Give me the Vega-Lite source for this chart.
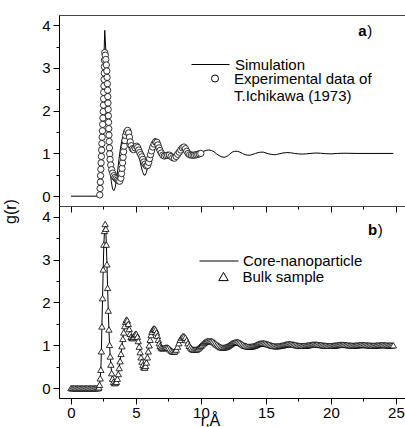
{
"$schema": "https://vega.github.io/schema/vega-lite/v6.json",
"padding": {"left": 1, "top": 14, "right": 0, "bottom": 0},
"background": "white",
"spacing": 0,
"bounds": "flush",
"resolve": {"scale": {"color": "independent", "shape": "independent", "x": "independent", "y": "independent"}, "legend": {"color": "independent", "shape": "independent"}},
"config": {
  "view": {"stroke": "#444", "strokeWidth": 1},
  "font": "Liberation Sans",
  "axis": {"grid": false, "domainColor": "black", "tickColor": "black", "labelColor": "black", "titleColor": "black", "labelFont": "Liberation Sans", "titleFont": "Liberation Sans", "labelFontSize": 15, "titleFontSize": 16, "titleFontWeight": "normal", "tickSize": 6, "domainWidth": 1, "tickWidth": 1},
  "legend": {"labelFont": "Liberation Sans", "labelFontSize": 15, "labelColor": "black"}
},
"datasets": {
"sim": [{"r":0,"g":0},{"r":1,"g":0},{"r":2.1,"g":0},{"r":2.2,"g":0.05},{"r":2.3,"g":0.5},{"r":2.4,"g":1.5},{"r":2.5,"g":2.9},{"r":2.6,"g":3.88},{"r":2.7,"g":3.3},{"r":2.8,"g":2.2},{"r":2.9,"g":1.3},{"r":3.0,"g":0.7},{"r":3.1,"g":0.35},{"r":3.2,"g":0.17},{"r":3.3,"g":0.13},{"r":3.4,"g":0.2},{"r":3.5,"g":0.38},{"r":3.6,"g":0.62},{"r":3.7,"g":0.88},{"r":3.8,"g":1.1},{"r":3.9,"g":1.28},{"r":4.0,"g":1.4},{"r":4.1,"g":1.47},{"r":4.2,"g":1.5},{"r":4.3,"g":1.48},{"r":4.4,"g":1.4},{"r":4.5,"g":1.28},{"r":4.6,"g":1.16},{"r":4.7,"g":1.1},{"r":4.8,"g":1.08},{"r":4.9,"g":1.1},{"r":5.0,"g":1.12},{"r":5.1,"g":1.1},{"r":5.2,"g":1.0},{"r":5.3,"g":0.85},{"r":5.4,"g":0.7},{"r":5.5,"g":0.58},{"r":5.6,"g":0.5},{"r":5.7,"g":0.49},{"r":5.8,"g":0.55},{"r":5.9,"g":0.68},{"r":6.0,"g":0.85},{"r":6.1,"g":1.02},{"r":6.2,"g":1.17},{"r":6.3,"g":1.28},{"r":6.4,"g":1.34},{"r":6.5,"g":1.35},{"r":6.6,"g":1.31},{"r":6.7,"g":1.23},{"r":6.8,"g":1.13},{"r":6.9,"g":1.03},{"r":7.0,"g":0.96},{"r":7.1,"g":0.92},{"r":7.2,"g":0.91},{"r":7.3,"g":0.92},{"r":7.4,"g":0.94},{"r":7.5,"g":0.95},{"r":7.6,"g":0.94},{"r":7.7,"g":0.91},{"r":7.8,"g":0.89},{"r":7.9,"g":0.88},{"r":8.0,"g":0.9},{"r":8.1,"g":0.95},{"r":8.2,"g":1.01},{"r":8.3,"g":1.07},{"r":8.4,"g":1.12},{"r":8.5,"g":1.15},{"r":8.6,"g":1.16},{"r":8.7,"g":1.15},{"r":8.8,"g":1.11},{"r":8.9,"g":1.06},{"r":9.0,"g":1.01},{"r":9.1,"g":0.97},{"r":9.2,"g":0.95},{"r":9.3,"g":0.94},{"r":9.4,"g":0.95},{"r":9.6,"g":0.97},{"r":9.8,"g":0.99},{"r":10.0,"g":1.02},{"r":10.2,"g":1.05},{"r":10.4,"g":1.07},{"r":10.6,"g":1.08},{"r":10.8,"g":1.07},{"r":11.0,"g":1.04},{"r":11.2,"g":0.99},{"r":11.4,"g":0.95},{"r":11.6,"g":0.92},{"r":11.8,"g":0.91},{"r":12.0,"g":0.93},{"r":12.2,"g":0.98},{"r":12.4,"g":1.03},{"r":12.6,"g":1.05},{"r":12.8,"g":1.05},{"r":13.0,"g":1.03},{"r":13.2,"g":1.0},{"r":13.4,"g":0.97},{"r":13.6,"g":0.96},{"r":13.8,"g":0.96},{"r":14.0,"g":0.98},{"r":14.2,"g":1.0},{"r":14.4,"g":1.02},{"r":14.6,"g":1.03},{"r":14.8,"g":1.03},{"r":15.0,"g":1.01},{"r":15.2,"g":0.99},{"r":15.4,"g":0.98},{"r":15.6,"g":0.97},{"r":15.8,"g":0.975},{"r":16.0,"g":0.99},{"r":16.3,"g":1.01},{"r":16.6,"g":1.02},{"r":16.9,"g":1.015},{"r":17.2,"g":1.0},{"r":17.5,"g":0.99},{"r":17.8,"g":0.985},{"r":18.1,"g":0.99},{"r":18.4,"g":1.0},{"r":18.8,"g":1.01},{"r":19.2,"g":1.005},{"r":19.6,"g":0.995},{"r":20.0,"g":0.99},{"r":20.5,"g":1.0},{"r":21.0,"g":1.005},{"r":22.0,"g":1.0},{"r":23.0,"g":1.0},{"r":24.8,"g":1.0}],
"exp": [{"r":2.22,"g":0.03},{"r":2.24,"g":0.18},{"r":2.26,"g":0.33},{"r":2.28,"g":0.48},{"r":2.3,"g":0.63},{"r":2.32,"g":0.78},{"r":2.34,"g":0.93},{"r":2.36,"g":1.08},{"r":2.38,"g":1.23},{"r":2.4,"g":1.38},{"r":2.42,"g":1.53},{"r":2.44,"g":1.68},{"r":2.46,"g":1.83},{"r":2.48,"g":1.98},{"r":2.5,"g":2.13},{"r":2.51,"g":2.28},{"r":2.52,"g":2.43},{"r":2.535,"g":2.58},{"r":2.55,"g":2.73},{"r":2.56,"g":2.88},{"r":2.57,"g":3.03},{"r":2.58,"g":3.18},{"r":2.6,"g":3.36},{"r":2.64,"g":3.3},{"r":2.68,"g":3.2},{"r":2.72,"g":3.07},{"r":2.76,"g":2.93},{"r":2.78,"g":2.78},{"r":2.8,"g":2.63},{"r":2.82,"g":2.48},{"r":2.835,"g":2.33},{"r":2.85,"g":2.18},{"r":2.865,"g":2.03},{"r":2.88,"g":1.88},{"r":2.895,"g":1.73},{"r":2.91,"g":1.58},{"r":2.925,"g":1.43},{"r":2.94,"g":1.28},{"r":2.96,"g":1.13},{"r":2.98,"g":0.99},{"r":3.01,"g":0.86},{"r":3.06,"g":0.73},{"r":3.13,"g":0.62},{"r":3.21,"g":0.54},{"r":3.3,"g":0.48},{"r":3.39,"g":0.44},{"r":3.48,"g":0.41},{"r":3.57,"g":0.38},{"r":3.66,"g":0.36},{"r":3.75,"g":0.35},{"r":3.84,"g":0.42},{"r":3.89,"g":0.53},{"r":3.93,"g":0.65},{"r":3.97,"g":0.78},{"r":4.01,"g":0.91},{"r":4.05,"g":1.04},{"r":4.1,"g":1.17},{"r":4.15,"g":1.3},{"r":4.2,"g":1.42},{"r":4.27,"g":1.5},{"r":4.36,"g":1.54},{"r":4.44,"g":1.48},{"r":4.5,"g":1.38},{"r":4.56,"g":1.27},{"r":4.63,"g":1.18},{"r":4.72,"g":1.11},{"r":4.82,"g":1.09},{"r":4.93,"g":1.13},{"r":5.04,"g":1.17},{"r":5.13,"g":1.14},{"r":5.21,"g":1.08},{"r":5.29,"g":1.02},{"r":5.37,"g":0.97},{"r":5.45,"g":0.92},{"r":5.53,"g":0.86},{"r":5.61,"g":0.8},{"r":5.7,"g":0.75},{"r":5.8,"g":0.71},{"r":5.9,"g":0.72},{"r":5.98,"g":0.79},{"r":6.05,"g":0.88},{"r":6.12,"g":0.97},{"r":6.2,"g":1.06},{"r":6.29,"g":1.15},{"r":6.39,"g":1.22},{"r":6.5,"g":1.27},{"r":6.61,"g":1.26},{"r":6.69,"g":1.2},{"r":6.77,"g":1.13},{"r":6.85,"g":1.07},{"r":6.95,"g":1.01},{"r":7.06,"g":0.96},{"r":7.18,"g":0.94},{"r":7.31,"g":0.95},{"r":7.44,"g":0.96},{"r":7.57,"g":0.96},{"r":7.7,"g":0.93},{"r":7.83,"g":0.9},{"r":7.96,"g":0.89},{"r":8.09,"g":0.93},{"r":8.21,"g":0.98},{"r":8.33,"g":1.03},{"r":8.45,"g":1.08},{"r":8.57,"g":1.13},{"r":8.69,"g":1.15},{"r":8.81,"g":1.11},{"r":8.91,"g":1.05},{"r":9.01,"g":1.0},{"r":9.13,"g":0.97},{"r":9.26,"g":0.96},{"r":9.39,"g":0.96},{"r":9.51,"g":0.96},{"r":9.63,"g":0.97},{"r":9.75,"g":0.98},{"r":9.87,"g":0.99},{"r":9.99,"g":1.0}],
"core": [{"r":0,"g":0},{"r":0.1,"g":0},{"r":0.2,"g":0},{"r":0.3,"g":0},{"r":0.4,"g":0},{"r":0.5,"g":0},{"r":0.6,"g":0},{"r":0.7,"g":0},{"r":0.8,"g":0},{"r":0.9,"g":0},{"r":1.0,"g":0},{"r":1.1,"g":0},{"r":1.2,"g":0},{"r":1.3,"g":0},{"r":1.4,"g":0},{"r":1.5,"g":0},{"r":1.6,"g":0},{"r":1.7,"g":0},{"r":1.8,"g":0},{"r":1.9,"g":0},{"r":2.0,"g":0},{"r":2.1,"g":0},{"r":2.15,"g":0.02},{"r":2.2,"g":0.08},{"r":2.25,"g":0.23},{"r":2.3,"g":0.43},{"r":2.34,"g":0.86},{"r":2.38,"g":1.44},{"r":2.43,"g":2.1},{"r":2.48,"g":2.77},{"r":2.53,"g":3.35},{"r":2.58,"g":3.67},{"r":2.63,"g":3.83},{"r":2.68,"g":3.72},{"r":2.72,"g":3.35},{"r":2.77,"g":2.89},{"r":2.82,"g":2.34},{"r":2.87,"g":1.81},{"r":2.92,"g":1.37},{"r":2.97,"g":1.01},{"r":3.02,"g":0.74},{"r":3.07,"g":0.55},{"r":3.13,"g":0.35},{"r":3.2,"g":0.22},{"r":3.27,"g":0.15},{"r":3.35,"g":0.12},{"r":3.42,"g":0.12},{"r":3.5,"g":0.15},{"r":3.57,"g":0.22},{"r":3.64,"g":0.33},{"r":3.71,"g":0.47},{"r":3.78,"g":0.63},{"r":3.85,"g":0.8},{"r":3.92,"g":0.98},{"r":3.99,"g":1.15},{"r":4.06,"g":1.3},{"r":4.13,"g":1.45},{"r":4.2,"g":1.55},{"r":4.27,"g":1.6},{"r":4.34,"g":1.58},{"r":4.41,"g":1.5},{"r":4.48,"g":1.38},{"r":4.55,"g":1.27},{"r":4.62,"g":1.2},{"r":4.69,"g":1.17},{"r":4.76,"g":1.17},{"r":4.83,"g":1.2},{"r":4.9,"g":1.24},{"r":4.97,"g":1.27},{"r":5.04,"g":1.26},{"r":5.11,"g":1.2},{"r":5.18,"g":1.1},{"r":5.25,"g":0.97},{"r":5.32,"g":0.84},{"r":5.39,"g":0.72},{"r":5.46,"g":0.62},{"r":5.53,"g":0.54},{"r":5.6,"g":0.49},{"r":5.67,"g":0.48},{"r":5.74,"g":0.52},{"r":5.81,"g":0.6},{"r":5.88,"g":0.72},{"r":5.95,"g":0.86},{"r":6.02,"g":1.0},{"r":6.09,"g":1.13},{"r":6.16,"g":1.24},{"r":6.23,"g":1.32},{"r":6.3,"g":1.37},{"r":6.37,"g":1.39},{"r":6.44,"g":1.39},{"r":6.51,"g":1.36},{"r":6.58,"g":1.3},{"r":6.65,"g":1.22},{"r":6.72,"g":1.13},{"r":6.79,"g":1.05},{"r":6.86,"g":0.99},{"r":6.93,"g":0.95},{"r":7.0,"g":0.93},{"r":7.1,"g":0.93},{"r":7.2,"g":0.94},{"r":7.3,"g":0.95},{"r":7.4,"g":0.95},{"r":7.5,"g":0.94},{"r":7.6,"g":0.91},{"r":7.7,"g":0.88},{"r":7.8,"g":0.86},{"r":7.9,"g":0.85},{"r":8.0,"g":0.86},{"r":8.1,"g":0.9},{"r":8.2,"g":0.97},{"r":8.3,"g":1.05},{"r":8.4,"g":1.13},{"r":8.5,"g":1.18},{"r":8.6,"g":1.21},{"r":8.7,"g":1.21},{"r":8.8,"g":1.18},{"r":8.9,"g":1.12},{"r":9.0,"g":1.05},{"r":9.1,"g":0.99},{"r":9.2,"g":0.95},{"r":9.3,"g":0.92},{"r":9.4,"g":0.9},{"r":9.5,"g":0.9},{"r":9.6,"g":0.9},{"r":9.7,"g":0.91},{"r":9.8,"g":0.93},{"r":9.9,"g":0.96},{"r":10.0,"g":0.99},{"r":10.1,"g":1.02},{"r":10.2,"g":1.05},{"r":10.3,"g":1.07},{"r":10.4,"g":1.09},{"r":10.5,"g":1.1},{"r":10.6,"g":1.1},{"r":10.7,"g":1.1},{"r":10.8,"g":1.1},{"r":10.9,"g":1.09},{"r":11.0,"g":1.07},{"r":11.1,"g":1.045},{"r":11.2,"g":1.02},{"r":11.3,"g":1.0},{"r":11.4,"g":0.98},{"r":11.5,"g":0.96},{"r":11.6,"g":0.95},{"r":11.7,"g":0.945},{"r":11.8,"g":0.95},{"r":11.9,"g":0.96},{"r":12.0,"g":0.97},{"r":12.1,"g":0.99},{"r":12.2,"g":1.01},{"r":12.3,"g":1.03},{"r":12.4,"g":1.05},{"r":12.5,"g":1.06},{"r":12.6,"g":1.07},{"r":12.7,"g":1.075},{"r":12.8,"g":1.08},{"r":12.9,"g":1.07},{"r":13.0,"g":1.06},{"r":13.1,"g":1.04},{"r":13.2,"g":1.02},{"r":13.3,"g":1.0},{"r":13.4,"g":0.99},{"r":13.5,"g":0.98},{"r":13.6,"g":0.97},{"r":13.7,"g":0.97},{"r":13.8,"g":0.97},{"r":13.9,"g":0.975},{"r":14.0,"g":0.98},{"r":14.1,"g":0.99},{"r":14.2,"g":1.0},{"r":14.3,"g":1.015},{"r":14.4,"g":1.03},{"r":14.5,"g":1.04},{"r":14.6,"g":1.045},{"r":14.7,"g":1.05},{"r":14.8,"g":1.05},{"r":14.9,"g":1.045},{"r":15.0,"g":1.04},{"r":15.1,"g":1.03},{"r":15.2,"g":1.02},{"r":15.3,"g":1.01},{"r":15.4,"g":1.0},{"r":15.5,"g":0.99},{"r":15.6,"g":0.985},{"r":15.7,"g":0.98},{"r":15.8,"g":0.98},{"r":15.9,"g":0.98},{"r":16.0,"g":0.985},{"r":16.1,"g":0.99},{"r":16.2,"g":0.995},{"r":16.3,"g":1.0},{"r":16.4,"g":1.01},{"r":16.5,"g":1.02},{"r":16.6,"g":1.025},{"r":16.7,"g":1.03},{"r":16.8,"g":1.03},{"r":16.9,"g":1.03},{"r":17.0,"g":1.025},{"r":17.1,"g":1.02},{"r":17.2,"g":1.015},{"r":17.3,"g":1.005},{"r":17.4,"g":1.0},{"r":17.5,"g":0.995},{"r":17.6,"g":0.99},{"r":17.7,"g":0.99},{"r":17.8,"g":0.99},{"r":17.9,"g":0.99},{"r":18.0,"g":0.99},{"r":18.1,"g":0.995},{"r":18.2,"g":1.0},{"r":18.3,"g":1.005},{"r":18.4,"g":1.01},{"r":18.5,"g":1.015},{"r":18.6,"g":1.02},{"r":18.7,"g":1.02},{"r":18.8,"g":1.02},{"r":18.9,"g":1.02},{"r":19.0,"g":1.015},{"r":19.1,"g":1.01},{"r":19.2,"g":1.01},{"r":19.3,"g":1.005},{"r":19.4,"g":1.0},{"r":19.5,"g":0.995},{"r":19.6,"g":0.995},{"r":19.7,"g":0.99},{"r":19.8,"g":0.99},{"r":19.9,"g":0.99},{"r":20.0,"g":0.99},{"r":20.1,"g":0.99},{"r":20.2,"g":0.995},{"r":20.3,"g":1.0},{"r":20.4,"g":1.0},{"r":20.5,"g":1.005},{"r":20.6,"g":1.01},{"r":20.7,"g":1.015},{"r":20.8,"g":1.015},{"r":20.9,"g":1.015},{"r":21.0,"g":1.015},{"r":21.1,"g":1.01},{"r":21.2,"g":1.01},{"r":21.3,"g":1.005},{"r":21.4,"g":1.0},{"r":21.5,"g":1.0},{"r":21.6,"g":0.995},{"r":21.7,"g":0.995},{"r":21.8,"g":0.995},{"r":21.9,"g":1.0},{"r":22.0,"g":1.0},{"r":22.1,"g":1.005},{"r":22.2,"g":1.005},{"r":22.3,"g":1.01},{"r":22.4,"g":1.01},{"r":22.5,"g":1.01},{"r":22.6,"g":1.01},{"r":22.7,"g":1.005},{"r":22.8,"g":1.005},{"r":22.9,"g":1.0},{"r":23.0,"g":1.0},{"r":23.1,"g":0.995},{"r":23.2,"g":0.995},{"r":23.3,"g":0.995},{"r":23.4,"g":0.995},{"r":23.5,"g":1.0},{"r":23.6,"g":1.0},{"r":23.7,"g":1.005},{"r":23.8,"g":1.005},{"r":23.9,"g":1.01},{"r":24.0,"g":1.01},{"r":24.1,"g":1.005},{"r":24.2,"g":1.005},{"r":24.3,"g":1.0},{"r":24.4,"g":1.0},{"r":24.5,"g":1.0},{"r":24.6,"g":1.0},{"r":24.7,"g":1.0},{"r":24.8,"g":1.0}]
},
"vconcat": [
{
  "width": 348, "height": 191,
  "resolve": {"axis": {"x": "independent", "y": "independent"}},
  "layer": [
    {"data": {"name": "sim"}, "mark": {"type": "line", "strokeWidth": 1, "color": "black"},
     "encoding": {
       "x": {"field": "r", "type": "quantitative", "scale": {"domain": [-0.92, 25.85], "nice": false, "zero": false}, "axis": {"orient": "bottom", "values": [0,5,10,15,20,25], "labels": false, "title": null}},
       "y": {"field": "g", "type": "quantitative", "scale": {"domain": [-0.23, 4.24], "nice": false, "zero": false}, "axis": {"orient": "left", "values": [0,1,2,3,4], "labelPadding": 3, "title": "g(r)", "titleX": -41, "titleY": 196}},
       "color": {"datum": "Simulation", "scale": {"range": ["black"]}, "legend": {"title": null, "orient": "none", "legendX": 132, "legendY": 30, "symbolType": "stroke", "symbolSize": 1444, "symbolStrokeWidth": 1, "symbolDash": [], "labelOffset": 5}}
     }},
    {"data": {"name": "exp"}, "mark": {"type": "point", "filled": true, "fill": "white", "stroke": "black", "strokeWidth": 0.8, "size": 40, "opacity": 1},
     "encoding": {
       "x": {"field": "r", "type": "quantitative", "axis": {"orient": "bottom", "values": [2.5,7.5,12.5,17.5,22.5], "labels": false, "domain": false, "tickSize": 3, "title": null}},
       "y": {"field": "g", "type": "quantitative", "axis": {"orient": "left", "values": [0.5,1.5,2.5,3.5], "labels": false, "domain": false, "tickSize": 3, "title": null}},
       "shape": {"datum": "Experimental data of T.Ichikawa (1973)", "scale": {"range": ["circle"]}, "legend": {"title": null, "orient": "none", "legendX": 148.5, "legendY": 56, "symbolSize": 50, "symbolStrokeWidth": 1, "labelOffset": 11.5, "labelExpr": "['Experimental data of', 'T.Ichikawa (1973)']"}}
     }},
    {"data": {"values": [{}]}, "mark": {"type": "text", "text": "a", "fontWeight": "bold", "fontSize": 15, "align": "left", "baseline": "middle", "font": "Liberation Sans", "color": "black"},
     "encoding": {"x": {"datum": 22.1, "type": "quantitative", "axis": null}, "y": {"datum": 3.87, "type": "quantitative", "axis": null}}},
    {"data": {"values": [{}]}, "mark": {"type": "text", "text": ")", "fontSize": 15, "align": "left", "baseline": "middle", "font": "Liberation Sans", "color": "black"},
     "encoding": {"x": {"datum": 22.8, "type": "quantitative", "axis": null}, "y": {"datum": 3.87, "type": "quantitative", "axis": null}}}
  ]
},
{
  "width": 348, "height": 192,
  "resolve": {"axis": {"x": "independent", "y": "independent"}},
  "layer": [
    {"data": {"name": "core"}, "mark": {"type": "line", "strokeWidth": 1, "color": "black", "point": {"filled": true, "size": 5, "color": "black", "opacity": 1}},
     "encoding": {
       "x": {"field": "r", "type": "quantitative", "scale": {"domain": [-0.92, 25.85], "nice": false, "zero": false}, "axis": {"orient": "bottom", "values": [0,5,10,15,20,25], "labelPadding": 1, "title": "r,Å", "titleX": 151, "titleY": 14}},
       "y": {"field": "g", "type": "quantitative", "scale": {"domain": [-0.23, 4.25], "nice": false, "zero": false}, "axis": {"orient": "left", "values": [0,1,2,3,4], "labelPadding": 3, "title": null}},
       "color": {"datum": "Core-nanoparticle", "scale": {"range": ["black"]}, "legend": {"title": null, "orient": "none", "legendX": 140, "legendY": 35, "symbolType": "stroke", "symbolSize": 1521, "symbolStrokeWidth": 1, "symbolDash": [], "labelOffset": 4}}
     }},
    {"data": {"name": "core"}, "mark": {"type": "point", "filled": true, "fill": "white", "stroke": "black", "strokeWidth": 0.8, "size": 40, "opacity": 1},
     "encoding": {
       "x": {"field": "r", "type": "quantitative", "axis": {"orient": "bottom", "values": [2.5,7.5,12.5,17.5,22.5], "labels": false, "domain": false, "tickSize": 3, "title": null}},
       "y": {"field": "g", "type": "quantitative", "axis": {"orient": "left", "values": [0.5,1.5,2.5,3.5], "labels": false, "domain": false, "tickSize": 3, "title": null}},
       "shape": {"datum": "Bulk sample", "scale": {"range": ["triangle-up"]}, "legend": {"title": null, "orient": "none", "legendX": 157, "legendY": 63, "symbolSize": 90, "symbolStrokeWidth": 1, "labelOffset": 11.5}}
     }},
    {"data": {"values": [{}]}, "mark": {"type": "text", "text": "b", "fontWeight": "bold", "fontSize": 15, "align": "left", "baseline": "middle", "font": "Liberation Sans", "color": "black"},
     "encoding": {"x": {"datum": 22.85, "type": "quantitative", "axis": null}, "y": {"datum": 3.69, "type": "quantitative", "axis": null}}},
    {"data": {"values": [{}]}, "mark": {"type": "text", "text": ")", "fontSize": 15, "align": "left", "baseline": "middle", "font": "Liberation Sans", "color": "black"},
     "encoding": {"x": {"datum": 23.6, "type": "quantitative", "axis": null}, "y": {"datum": 3.69, "type": "quantitative", "axis": null}}}
  ]
}
]
}
